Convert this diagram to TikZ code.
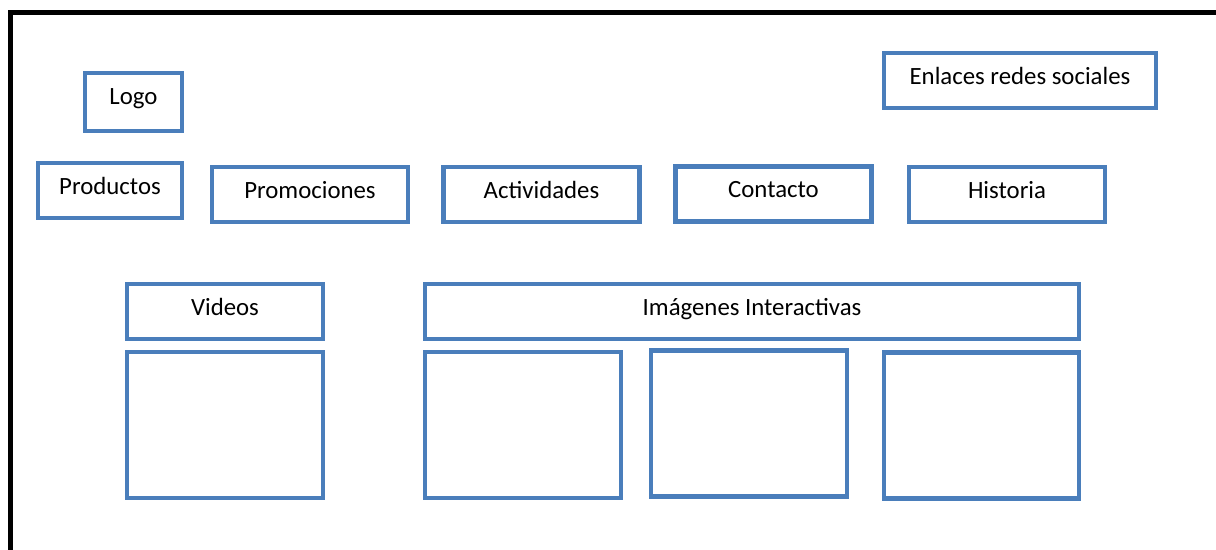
\documentclass[tikz,border=0pt]{standalone}
\usepackage{fontspec}
\setmainfont{Carlito}
\usetikzlibrary{positioning}

\definecolor{cajaazul}{HTML}{4A7EBB}

\begin{document}
\begin{tikzpicture}[x=0.5pt, y=-0.5pt,
                    caja/.style={draw=cajaazul, line width=2.2pt, rectangle,
                                 minimum width=98pt, minimum height=27.5pt,
                                 inner sep=0pt, text depth=5pt,
                                 font=\fontsize{12.4pt}{14pt}\selectfont}]
    \clip (0,0) rectangle (1216,550);
    \fill[white] (0,0) rectangle (1216,550);
    % marco de la pagina
    \draw[line width=2.2pt] (10.5,600) -- (10.5,12.5) -- (1260,12.5);
    % cabecera
    \node[caja, minimum width=48.5pt, minimum height=29pt] (logo) at (133.5,102) {Logo};
    \node[caja, minimum width=136pt] (redes) at (1020,80.5) {Enlaces redes sociales};
    % menu
    \node[caja, minimum width=72pt] (productos) at (110,190.5) {Productos};
    \node[caja] (promociones) at (310,194.5)  {Promociones};
    \node[caja] (actividades) at (541.5,194.5) {Actividades};
    \node[caja] (contacto)    at (773.5,194)  {Contacto};
    \node[caja] (historia)    at (1007,194.5) {Historia};
    % contenido
    \node[caja] (videos) at (225,311.5) {Videos};
    \node[caja, minimum width=327pt] (imagenes) at (752,311.5) {Imágenes Interactivas};
    \node[caja, minimum height=73pt] (video1)  at (225,425)    {};
    \node[caja, minimum height=73pt] (imagen1) at (523,425)    {};
    \node[caja, minimum height=73pt] (imagen2) at (749,423.5)  {};
    \node[caja, minimum height=73pt, minimum width=97.5pt] (imagen3) at (981.5,425.5) {};
\end{tikzpicture}
\end{document}
